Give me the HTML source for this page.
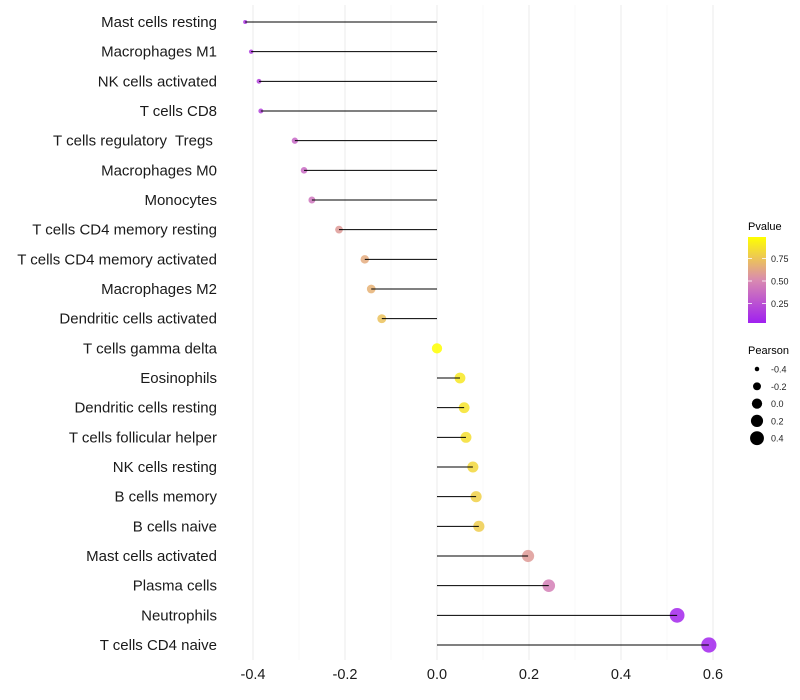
<!DOCTYPE html>
<html><head><meta charset="utf-8"><style>
body{margin:0;background:#fff;}
svg{display:block;font-family:"Liberation Sans",sans-serif;}
</style></head><body>
<svg id="chart" width="800" height="700">
<defs><linearGradient id="pg" x1="0" y1="1" x2="0" y2="0">
<stop offset="0" stop-color="#A020F0"/><stop offset="0.5" stop-color="#D98AB0"/><stop offset="1" stop-color="#FFFF00"/></linearGradient></defs>
<g id="grid"></g><g id="dots"></g><g id="marks"></g><g id="labels"></g><g id="xaxis"></g><g id="legend"></g>
</svg>
<script>
const categories=["Mast cells resting","Macrophages M1","NK cells activated","T cells CD8","T cells regulatory  Tregs ","Macrophages M0","Monocytes","T cells CD4 memory resting","T cells CD4 memory activated","Macrophages M2","Dendritic cells activated","T cells gamma delta","Eosinophils","Dendritic cells resting","T cells follicular helper","NK cells resting","B cells memory","B cells naive","Mast cells activated","Plasma cells","Neutrophils","T cells CD4 naive"];
const pearson=[-0.417,-0.404,-0.387,-0.383,-0.309,-0.289,-0.272,-0.213,-0.157,-0.143,-0.12,0,0.05,0.059,0.063,0.078,0.085,0.091,0.198,0.243,0.522,0.591];
const pvalues=[0.1,0.13,0.17,0.17,0.33,0.35,0.4,0.57,0.64,0.67,0.74,1.0,0.9,0.88,0.86,0.83,0.8,0.78,0.57,0.45,0.03,0.02];
const xTicks=[-0.4,-0.2,0,0.2,0.4,0.6];
const xTickLabels=["-0.4","-0.2","0.0","0.2","0.4","0.6"];
const minorTicks=[-0.3,-0.1,0.1,0.3,0.5];
const sizeLegendVals=[-0.4,-0.2,0,0.2,0.4];
const pLegendTicks=[0.25,0.5,0.75];

const NS="http://www.w3.org/2000/svg";
const X=v=>437+460*v;
const Y=i=>22+i*(623/21);
const R=v=>Math.sqrt(Math.max(1,4+(v+0.42)/1.01*54));
function mix(a,b,t){return a.map((c,i)=>Math.round(c+(b[i]-c)*t));}
function col(p){const a=[160,32,240],m=[217,138,176],y=[255,255,0];
 const c=p<0.5?mix(a,m,p/0.5):mix(m,y,(p-0.5)/0.5);return `rgb(${c.join(',')})`;}
function mk(tag,attrs,parent,text){const e=document.createElementNS(NS,tag);for(const k in attrs)e.setAttribute(k,attrs[k]);if(text!==undefined)e.textContent=text;parent.appendChild(e);return e;}
const grid=document.getElementById('grid'),dots=document.getElementById('dots'),marks=document.getElementById('marks'),labels=document.getElementById('labels'),xaxis=document.getElementById('xaxis'),legend=document.getElementById('legend');
minorTicks.forEach(v=>{const l=mk('line',{x1:X(v),x2:X(v),y1:5,y2:660,stroke:'#f4f4f4','stroke-width':0.6},grid);

});
xTicks.forEach((v,i)=>{const l=mk('line',{x1:X(v),x2:X(v),y1:5,y2:660,stroke:'#ebebeb','stroke-width':1},grid);


const t=mk('text',{x:X(v),y:679,'text-anchor':'middle','font-size':14.5,fill:'#1a1a1a'},xaxis,xTickLabels[i]);

});
categories.forEach((c,i)=>{const y=Y(i);
const d=mk('circle',{cx:X(pearson[i]),cy:y,r:R(pearson[i]),fill:col(pvalues[i]),'fill-opacity':0.85},dots);


const s=mk('line',{x1:X(0),x2:X(pearson[i]),y1:y,y2:y,stroke:'#000','stroke-width':1},marks);


const t=mk('text',{x:217,y:y+5,'text-anchor':'end','font-size':15,fill:'#1a1a1a','xml:space':'preserve'},labels,c);
t.style.whiteSpace='pre';

});
let t=mk('text',{x:748,y:230,'font-size':11,fill:'#000'},legend,'Pvalue');


const bar=mk('rect',{x:748,y:237,width:18,height:86,fill:'url(#pg)'},legend);


pLegendTicks.forEach(p=>{const y=326-p*90;
mk('line',{x1:748,x2:752,y1:y,y2:y,stroke:'#fff','stroke-width':0.8},legend);
mk('line',{x1:762,x2:766,y1:y,y2:y,stroke:'#fff','stroke-width':0.8},legend);
const tt=mk('text',{x:771,y:y+3.5,'font-size':9,fill:'#222'},legend,p.toFixed(2));

});
t=mk('text',{x:748,y:354,'font-size':11,fill:'#000'},legend,'Pearson');


sizeLegendVals.forEach((v,i)=>{const y=369+i*17.3;
const c=mk('circle',{cx:757,cy:y,r:R(v),fill:'#000'},legend);


const tt=mk('text',{x:771,y:y+3.5,'font-size':9,fill:'#222'},legend,v.toFixed(1));

});
</script>
</body></html>
